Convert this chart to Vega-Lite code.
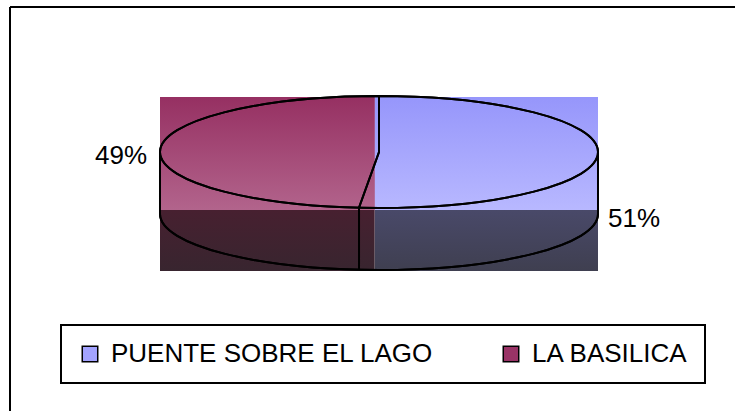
{
  "$schema": "https://vega.github.io/schema/vega-lite/v6.json",
  "width": 725,
  "height": 404,
  "autosize": "none",
  "padding": {"left": 10, "top": 7, "right": 0, "bottom": 0},
  "background": "white",
  "config": {
    "view": {"stroke": null},
    "legend": {"strokeWidth": 2},
    "font": "Liberation Sans"
  },
  "data": {
    "values": [
      {"slice": "PUENTE SOBRE EL LAGO", "percent": 0.51},
      {"slice": "LA BASILICA", "percent": 0.49}
    ]
  },
  "transform": [
    {"stack": "percent", "groupby": [], "as": ["x0", "x1"], "offset": "normalize", "sort": [{"field": "slice", "order": "ascending"}]}
  ],
  "resolve": {"scale": {"x": "shared", "y": "shared"}},
  "layer": [
    {
      "mark": {"type": "rect"},
      "encoding": {
        "x": {"field": "x0", "type": "quantitative", "scale": {"domain": [-0.34247, 1.31279], "nice": false, "zero": false}, "axis": null},
        "x2": {"field": "x1"},
        "y": {"datum": 0, "type": "quantitative", "scale": {"domain": [-90, 314], "reverse": true, "nice": false, "zero": false}, "axis": null},
        "y2": {"datum": 113},
        "fill": {
          "field": "slice", "type": "nominal",
          "scale": {"domain": ["PUENTE SOBRE EL LAGO", "LA BASILICA"], "range": ["#A3A3FF", "#993366"]},
          "legend": {
            "orient": "none", "legendX": 51, "legendY": 318, "direction": "horizontal",
            "title": null, "strokeColor": "black", "padding": 16,
            "symbolType": "square", "symbolSize": 240, "symbolStrokeColor": "black", "symbolStrokeWidth": 1.5,
            "labelFontSize": 26, "labelFont": "Liberation Sans", "labelColor": "black", "labelOffset": 8,
            "columnPadding": 64, "labelLimit": 0
          }
        }
      }
    },
    {
      "transform": [{"filter": "datum.slice === 'PUENTE SOBRE EL LAGO'"}],
      "mark": {"type": "rect", "color": {"gradient": "linear", "x1": 0, "y1": 0, "x2": 0, "y2": 1, "stops": [{"offset": 0, "color": "#9696FB"}, {"offset": 1, "color": "#B8B8FF"}]}},
      "encoding": {
        "x": {"field": "x0", "type": "quantitative"},
        "x2": {"field": "x1"},
        "y": {"datum": 0, "type": "quantitative"},
        "y2": {"datum": 113}
      }
    },
    {
      "transform": [{"filter": "datum.slice === 'LA BASILICA'"}],
      "mark": {"type": "rect", "color": {"gradient": "linear", "x1": 0, "y1": 0, "x2": 0, "y2": 1, "stops": [{"offset": 0, "color": "#963062"}, {"offset": 1, "color": "#B2648C"}]}},
      "encoding": {
        "x": {"field": "x0", "type": "quantitative"},
        "x2": {"field": "x1"},
        "y": {"datum": 0, "type": "quantitative"},
        "y2": {"datum": 113}
      }
    },
    {
      "transform": [{"filter": "datum.slice === 'PUENTE SOBRE EL LAGO'"}],
      "mark": {"type": "rect", "color": {"gradient": "linear", "x1": 0, "y1": 0, "x2": 0, "y2": 1, "stops": [{"offset": 0, "color": "#494969"}, {"offset": 1, "color": "#3F3F50"}]}},
      "encoding": {
        "x": {"field": "x0", "type": "quantitative"},
        "x2": {"field": "x1"},
        "y": {"datum": 113, "type": "quantitative"},
        "y2": {"datum": 174}
      }
    },
    {
      "transform": [{"filter": "datum.slice === 'LA BASILICA'"}],
      "mark": {"type": "rect", "color": {"gradient": "linear", "x1": 0, "y1": 0, "x2": 0, "y2": 1, "stops": [{"offset": 0, "color": "#472030"}, {"offset": 1, "color": "#38252F"}]}},
      "encoding": {
        "x": {"field": "x0", "type": "quantitative"},
        "x2": {"field": "x1"},
        "y": {"datum": 113, "type": "quantitative"},
        "y2": {"datum": 174}
      }
    },
    {
      "mark": {
        "type": "point", "filled": false, "color": "black", "strokeWidth": 2, "opacity": 1, "size": 191844,
        "shape": "M -1 0 A 1 0.2557 0 0 1 1 0 A 1 0.2557 0 0 1 -1 0 M -1 0 L -1 0.2831 A 1 0.2557 0 0 0 1 0.2831 L 1 0 M 0 -0.2557 L 0 0 L -0.0913 0.2546 L -0.0913 0.5377"
      },
      "encoding": {
        "x": {"datum": 0.5, "type": "quantitative"},
        "y": {"datum": 55, "type": "quantitative"}
      }
    },
    {
      "mark": {"type": "rule", "color": "black", "strokeWidth": 2},
      "encoding": {
        "x": {"datum": -0.34247, "type": "quantitative"},
        "y": {"datum": -90, "type": "quantitative"},
        "y2": {"datum": 314}
      }
    },
    {
      "mark": {"type": "rule", "color": "black", "strokeWidth": 2},
      "encoding": {
        "y": {"datum": -90, "type": "quantitative"},
        "x": {"datum": -0.34247, "type": "quantitative"},
        "x2": {"datum": 1.31279}
      }
    },
    {
      "transform": [{"filter": "datum.slice === 'LA BASILICA'"}],
      "mark": {"type": "text", "font": "Liberation Sans", "fontSize": 26, "color": "black", "align": "center", "baseline": "alphabetic"},
      "encoding": {
        "x": {"datum": -0.0891, "type": "quantitative"},
        "y": {"datum": 67, "type": "quantitative"},
        "text": {"field": "percent", "type": "quantitative", "format": ".0%"}
      }
    },
    {
      "transform": [{"filter": "datum.slice === 'PUENTE SOBRE EL LAGO'"}],
      "mark": {"type": "text", "font": "Liberation Sans", "fontSize": 26, "color": "black", "align": "center", "baseline": "alphabetic"},
      "encoding": {
        "x": {"datum": 1.0822, "type": "quantitative"},
        "y": {"datum": 130, "type": "quantitative"},
        "text": {"field": "percent", "type": "quantitative", "format": ".0%"}
      }
    }
  ]
}
